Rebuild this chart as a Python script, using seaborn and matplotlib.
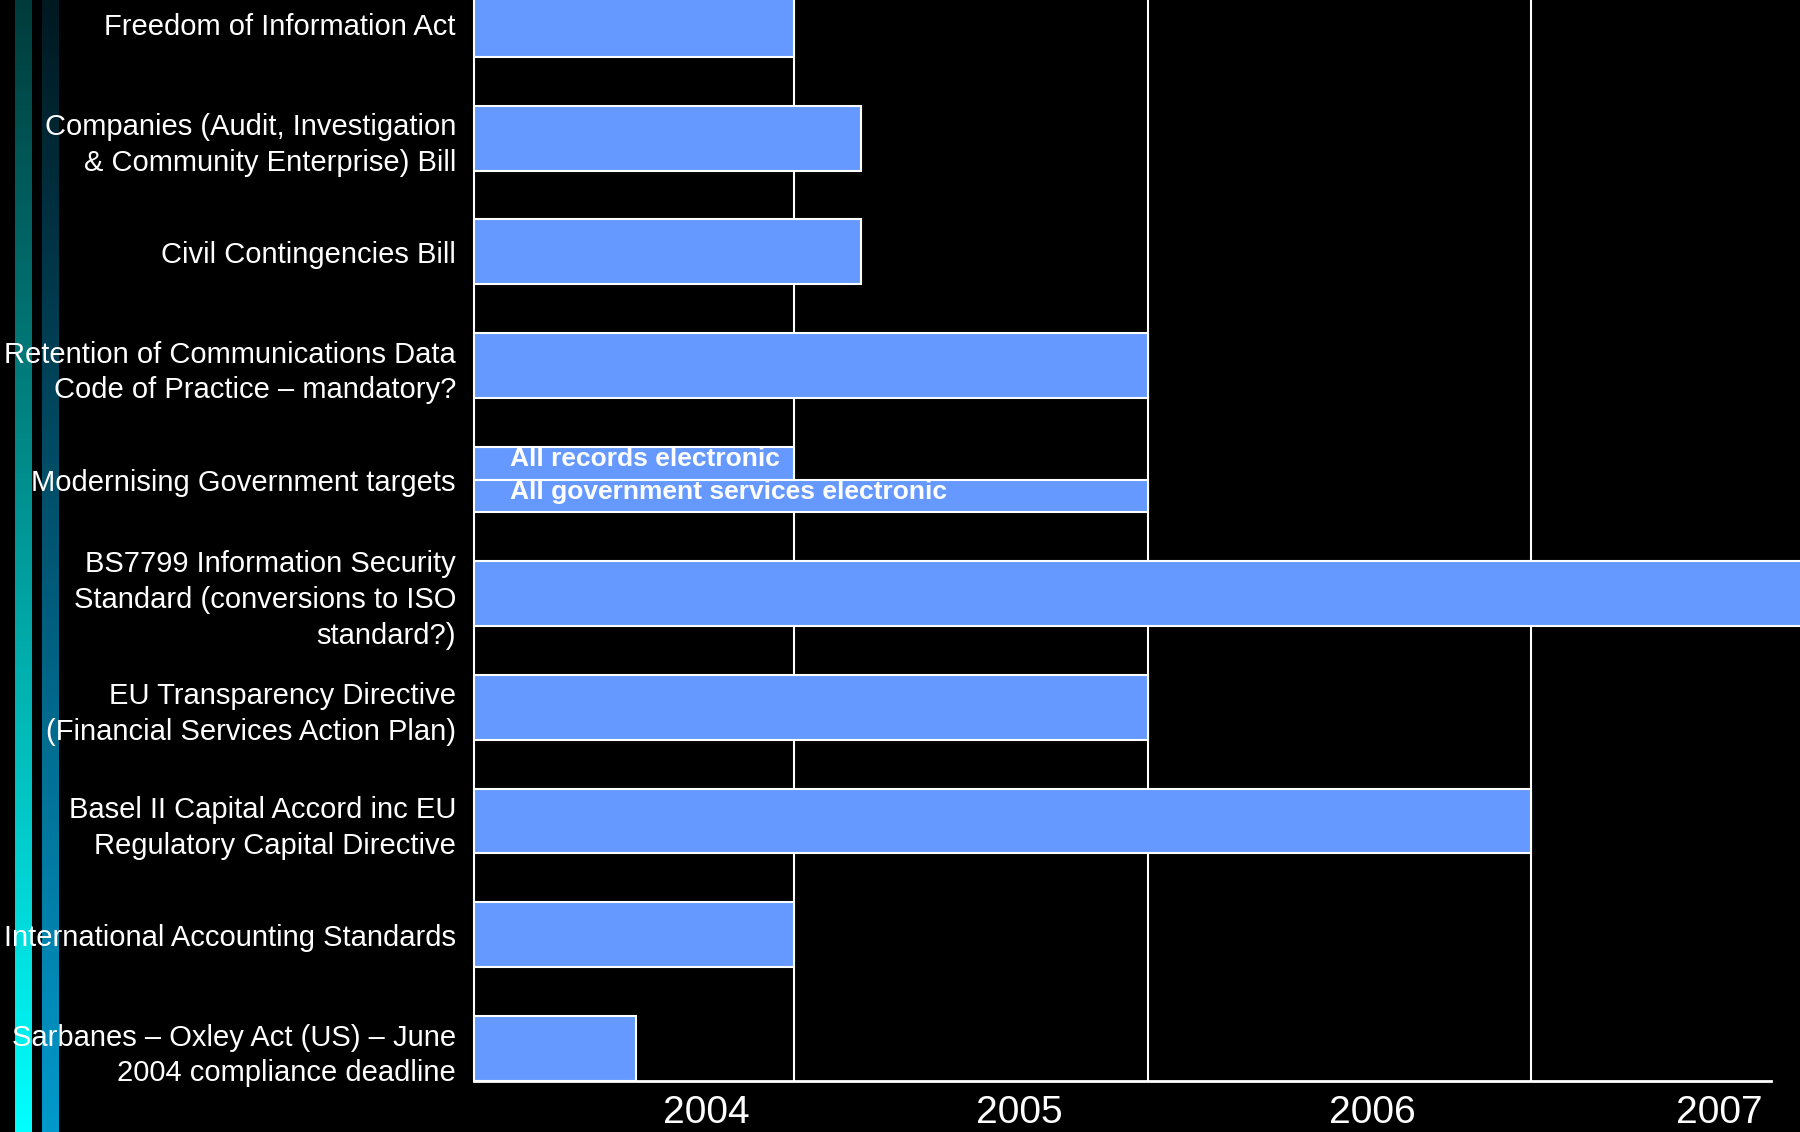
import numpy as np
import pandas as pd
import matplotlib
matplotlib.use("Agg")
import matplotlib.pyplot as plt
import seaborn as sns
from matplotlib.colors import LinearSegmentedColormap

# timeline rows, top to bottom
items = [
    "Freedom of Information Act",
    "Companies (Audit, Investigation\n& Community Enterprise) Bill",
    "Civil Contingencies Bill",
    "Retention of Communications Data\nCode of Practice – mandatory?",
    "Modernising Government targets",
    "BS7799 Information Security\nStandard (conversions to ISO\nstandard?)",
    "EU Transparency Directive\n(Financial Services Action Plan)",
    "Basel II Capital Accord inc EU\nRegulatory Capital Directive",
    "International Accounting Standards",
    "Sarbanes – Oxley Act (US) – June\n2004 compliance deadline",
]
# where each bar ends (decimal years); the Modernising row is split in two
deadline = [2004.37, 2004.55, 2004.55, 2005.33, np.nan, 2007.5,
            2005.33, 2006.37, 2004.37, 2003.94]
modern_targets = ["All records electronic", "All government services electronic"]
modern_deadline = [2004.37, 2005.33]

timeline_start = 2003.5
timeline_end = 2007.02
grid_years = [2004.37, 2005.33, 2006.37]
year_labels = ["2004", "2005", "2006", "2007"]
year_label_pos = [2004.13, 2004.98, 2005.94, 2006.88]

BAR = "#6699ff"

sns.set_style("white", rc={"axes.facecolor": "black", "figure.facecolor": "black"})
plt.rcParams["font.family"] = ["Liberation Sans", "DejaVu Sans"]

fig = plt.figure(figsize=(18, 11.32), dpi=100)

# decorative gradient strips on the far left
for x0, top, bottom in [(15, "#003b3b", "#00ffff"), (42, "#001820", "#0099cc")]:
    sax = fig.add_axes([x0 / 1800, 0, 17 / 1800, 1])
    cmap = LinearSegmentedColormap.from_list("strip", [top, bottom])
    sax.imshow(np.linspace(0, 1, 256)[:, None], aspect="auto", cmap=cmap)
    sax.axis("off")

ax = fig.add_axes([474 / 1800, 1 - 1081 / 1132, 1326 / 1800, 1125 / 1132])

df = pd.DataFrame({"item": items, "deadline": deadline})

for g in grid_years:
    ax.axvline(g, color="white", lw=1.5, zorder=0)

sns.barplot(data=df, x="deadline", y="item", order=items, orient="y",
            color=BAR, saturation=1, edgecolor="white", linewidth=1.5,
            width=0.57, errorbar=None, ax=ax, zorder=2)

# Modernising Government row: two half-height bars
row = items.index("Modernising Government targets")
for k, (label, end) in enumerate(zip(modern_targets, modern_deadline)):
    yc = row - 0.1425 + k * 0.285
    ax.barh(yc, end, height=0.285, color=BAR, edgecolor="white", linewidth=1.5, zorder=2)
    ax.annotate(label, xy=(timeline_start, yc), xytext=(26, 3), textcoords="offset points",
                color="white", fontsize=19, fontweight="bold", va="center", ha="left", zorder=3)

ax.set_xlim(timeline_start, 2007.1)
ax.set_ylim(9.285, -0.6)
ax.set_xlabel("")
ax.set_ylabel("")

ax.set_xticks(year_label_pos, year_labels)
ax.tick_params(axis="x", length=0, pad=10, labelsize=28, labelcolor="white")
ax.tick_params(axis="y", length=0, pad=13, labelsize=21, labelcolor="white")
for t in ax.get_yticklabels():
    t.set_linespacing(1.35)

for s in ["top", "right"]:
    ax.spines[s].set_visible(False)
ax.spines["left"].set_color("white")
ax.spines["left"].set_linewidth(1.5)
ax.spines["bottom"].set_color("white")
ax.spines["bottom"].set_linewidth(2)
ax.spines["bottom"].set_bounds(timeline_start, timeline_end)

fig.savefig("out.png", dpi=100, facecolor="black")
